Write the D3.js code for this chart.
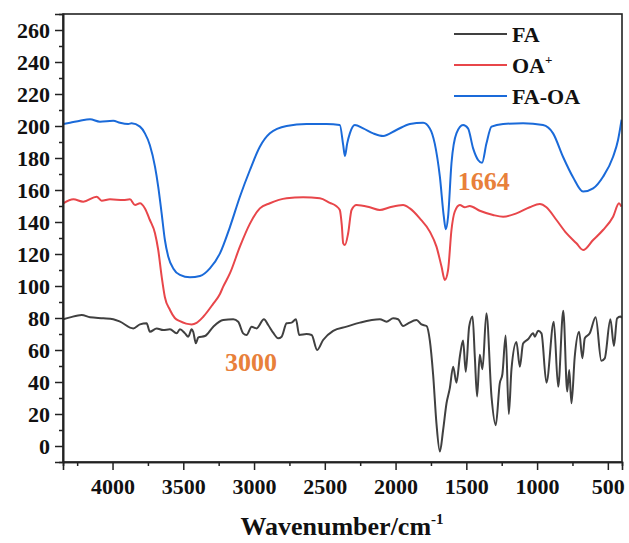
<!DOCTYPE html>
<html>
<head>
<meta charset="utf-8">
<script src="https://cdn.jsdelivr.net/npm/d3@7"></script>
<style>
  html, body { margin: 0; padding: 0; background: #fff; }
  svg { display: block; }
  text { font-family: "Liberation Serif", "Times New Roman", serif; font-weight: bold; }
</style>
</head>
<body>
<svg id="chart" width="629" height="543"></svg>
<script>
// ---- data ----
const faWave = [4348,4300,4218,4159,4065,3995,3947,3853,3806,3759,3736,3688,3642,3594,3547,3524,3488,3465,3441,3430,3411,3394,3347,3288,3218,3147,3112,3077,3053,3017,2982,2930,2900,2865,2829,2805,2770,2735,2704,2681,2629,2593,2554,2512,2441,2346,2252,2111,2064,2017,1982,1947,1911,1852,1817,1781,1758,1735,1711,1687,1664,1640,1617,1593,1570,1546,1523,1504,1480,1456,1440,1424,1405,1386,1358,1322,1292,1264,1245,1222,1200,1181,1146,1122,1099,1064,1028,1016,993,969,934,882,851,815,787,773,757,734,703,680,663,628,586,546,522,482,457,435,411,401];
const faVal  = [79.2,80.4,81.9,80.4,79.8,79.2,77.7,73.5,76,76.7,71.4,73.5,72.5,72.9,70.4,72.9,70.4,68.3,72.9,71.4,64.2,67.9,68.75,74.6,78.75,79.2,77.7,70.4,69.4,74.6,73.5,79.2,75.6,70.8,67.3,68.3,76.7,77.1,79.2,69.4,70,69.4,60,66.25,72,74.6,77.1,79.2,77.7,79.8,79.2,75,76.7,78.75,76,75,66,45,14,-3.5,10,26.7,36,49.6,39.6,55.8,66,46.4,74.6,81,55.8,31,57,48,83,30.8,13,39,45,69,20,48,65,49.6,64,66.7,70.4,68.3,72,70.4,39.6,77.7,37,84.6,34,47.5,26.7,55.8,71.4,54.8,67.3,70.4,80.4,53.3,54.8,79.2,62.5,79.8,81,80];

const oaWave = [4348,4277,4207,4112,4077,4018,3924,3877,3841,3806,3771,3736,3700,3677,3653,3630,3594,3560,3524,3480,3441,3406,3359,3288,3241,3218,3170,3100,3029,2959,2888,2770,2653,2535,2464,2420,2394,2380,2370,2358,2335,2311,2276,2182,2111,2040,1947,1899,1829,1758,1711,1675,1652,1629,1605,1582,1546,1511,1476,1405,1311,1240,1146,1052,981,934,863,793,722,675,604,534,463,421,405];
const oaVal  = [151.7,154.2,152.7,155.8,153.3,154.2,153.75,154.2,150.6,151.7,148.5,141.25,133,122.5,106,93,85,80,78,76.5,76,77,80.8,89,95,99.6,108,124.6,139,148.5,151.7,154.8,155.4,154.8,152,150,147.5,138,126.7,125.6,133,147.5,150.6,149.2,147.5,149.2,150.6,148.5,142.3,134,124.6,112,103.75,110,135,146.4,150.6,149.2,150,147,144.4,143.3,145.4,149.2,151.25,149.2,141.25,133,126.7,122.5,128.75,135,143.3,151.7,149.6];

const foWave = [4348,4300,4230,4159,4089,3995,3947,3889,3865,3806,3771,3736,3700,3677,3653,3630,3606,3571,3524,3453,3382,3312,3241,3170,3100,3029,2959,2888,2770,2629,2488,2394,2370,2358,2342,2323,2288,2229,2158,2088,1994,1899,1805,1758,1723,1687,1659,1645,1629,1605,1570,1523,1488,1452,1417,1389,1358,1322,1240,1099,958,887,817,746,675,604,534,463,428,411,403];
const foVal  = [201.25,202,203.3,204.2,202.7,203.3,202,201.25,201.7,199.6,195.4,188,174.6,162,145.4,128.75,118.3,111,106.9,105.4,106.25,111,120.4,137,155.8,172.5,187,195.4,200,201.25,201.25,200.6,188,181.25,189,195.4,200.6,198.5,195.4,193.75,197.5,201.25,202,198.5,189,168.3,143.3,135.4,143.3,176.7,195.4,200.6,198.5,186,178.75,177,189,199.6,201.25,201.7,200.6,195.4,180.8,168,159,161,168.3,180.8,191.25,199.6,204];

const seriesNames = ["FA", "OA", "FA-OA"];
const seriesColors = ["#404040", "#e8464a", "#1a6ad9"];
const xTicks = [4000,3500,3000,2500,2000,1500,1000,500];
const xMinor = [4250,3750,3250,2750,2250,1750,1250,750];
const yTicks = d3.range(0, 261, 20);
const yMinor = d3.range(10, 261, 20);
const xDomain = [4350, 400];
const yDomain = [-10, 270];
const annotations = [{text: "1664", w: 1377, v: 160}, {text: "3000", w: 3022, v: 47}];

(function () {
  // ---- layout ----
  const mLeft = 63, mRight = 622, mTop = 14, mBottom = 462;
  const svg = d3.select("#chart");
  const x = d3.scaleLinear().domain(xDomain).range([mLeft, mRight]);
  const y = d3.scaleLinear().domain(yDomain).range([mBottom, mTop]);

  const series = [
    {name: seriesNames[0], color: seriesColors[0], pts: faWave.map((w,i)=>[w, faVal[i]])},
    {name: seriesNames[1], color: seriesColors[1], pts: oaWave.map((w,i)=>[w, oaVal[i]])},
    {name: seriesNames[2], color: seriesColors[2], pts: foWave.map((w,i)=>[w, foVal[i]])}
  ];

  svg.append("defs").append("clipPath").attr("id","clip")
    .append("rect").attr("x", mLeft).attr("y", mTop).attr("width", mRight-mLeft).attr("height", mBottom-mTop);

  const line = d3.line().x(d => x(d[0])).y(d => y(d[1])).curve(d3.curveMonotoneX);
  const g = svg.append("g").attr("clip-path", "url(#clip)");
  series.forEach(s => {
    g.append("path").datum(s.pts).attr("d", line)
      .attr("fill", "none").attr("stroke", s.color).attr("stroke-width", 2)
      .attr("stroke-linejoin", "round");
  });

  // frame
  svg.append("rect").attr("x", mLeft).attr("y", mTop).attr("width", mRight-mLeft).attr("height", mBottom-mTop)
    .attr("fill", "none").attr("stroke", "#222").attr("stroke-width", 1.6);

  // x axis
  svg.append("g").attr("transform", `translate(0,${mBottom})`)
    .call(d3.axisBottom(x).tickValues(xTicks).tickSize(8).tickPadding(8).tickFormat(d3.format("d")));
  svg.append("g").attr("transform", `translate(0,${mBottom})`)
    .call(d3.axisBottom(x).tickValues(xMinor).tickSize(4).tickFormat(""));
  // y axis
  svg.append("g").attr("transform", `translate(${mLeft},0)`)
    .call(d3.axisLeft(y).tickValues(yTicks).tickSize(8).tickPadding(5).tickFormat(d3.format("d")));
  svg.append("g").attr("transform", `translate(${mLeft},0)`)
    .call(d3.axisLeft(y).tickValues(yMinor).tickSize(4).tickFormat(""));

  svg.selectAll(".domain").attr("stroke", "#222").attr("stroke-width", 1.6);
  svg.selectAll(".tick line").attr("stroke", "#222").attr("stroke-width", 1.5);
  svg.selectAll(".tick text").attr("font-size", 22).attr("fill", "#111")
    .attr("font-family", "Liberation Serif, Times New Roman, serif").attr("font-weight", "bold");

  // axis title
  const title = svg.append("text").attr("x", 342).attr("y", 535).attr("text-anchor", "middle")
    .attr("font-size", 26).attr("fill", "#111");
  title.append("tspan").text("Wavenumber/cm");
  title.append("tspan").attr("font-size", 15).attr("dy", -11).text("-1");

  // legend
  const legY = [34, 65, 96];
  series.forEach((s, i) => {
    svg.append("line").attr("x1", 454).attr("x2", 507).attr("y1", legY[i]).attr("y2", legY[i])
      .attr("stroke", s.color).attr("stroke-width", 2);
    const t = svg.append("text").attr("x", 512).attr("y", legY[i] + 8)
      .attr("font-size", 22).attr("fill", "#111");
    t.append("tspan").text(s.name);
    if (s.name === "OA") t.append("tspan").attr("font-size", 13).attr("dy", -9).text("+");
  });

  // annotations
  annotations.forEach(a => {
    svg.append("text").attr("x", x(a.w)).attr("y", y(a.v)).attr("text-anchor", "middle")
      .attr("font-size", 26).attr("fill", "#e8803a").text(a.text);
  });
})();
</script>
</body>
</html>
